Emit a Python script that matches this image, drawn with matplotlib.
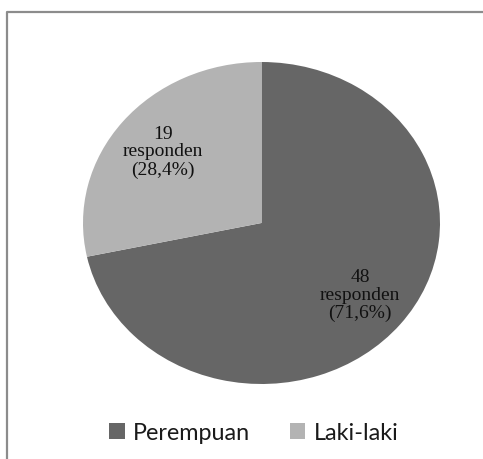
import matplotlib
matplotlib.use("Agg")
import matplotlib.pyplot as plt
from matplotlib.lines import Line2D

# data
labels = ["Perempuan", "Laki-laki"]
counts = [48, 19]
colors = ["#666666", "#b3b3b3"]
total = sum(counts)


def fmt(p):
    n = int(round(p * total / 100.0))
    return "{}\nresponden\n({})".format(n, ("%.1f%%" % p).replace(".", ","))


W, H = 483, 460
fig = plt.figure(figsize=(W / 100, H / 100), dpi=100)

# outer frame (only left and top edges visible)
fig.add_artist(Line2D([6.5 / W, 6.5 / W, 1], [0, 1 - 12.5 / H, 1 - 12.5 / H],
                      transform=fig.transFigure, color="#8c8c8c", lw=1.6))

# pie area: slightly stretched horizontally like the original
ax = fig.add_axes([83 / W, (H - 385) / H, 357 / W, 322 / H])
wedges, texts, autotexts = ax.pie(
    counts, colors=colors, startangle=90, counterclock=False,
    autopct=fmt, pctdistance=0.71, radius=1.0,
    textprops=dict(family="Liberation Serif", fontsize=14, color="#111111",
                   linespacing=1.06),
)
ax.set_aspect("auto")
ax.set_xlim(-1, 1)
ax.set_ylim(-1, 1)

fig.legend(wedges, labels, loc="center", bbox_to_anchor=(0.525, 0.057),
           ncol=2, frameon=False, handlelength=0.68, handleheight=0.68,
           handletextpad=0.35, columnspacing=1.7,
           prop=dict(family="Lato", size=16.8), labelcolor="#1a1a1a")

fig.savefig("out.png", dpi=100)
